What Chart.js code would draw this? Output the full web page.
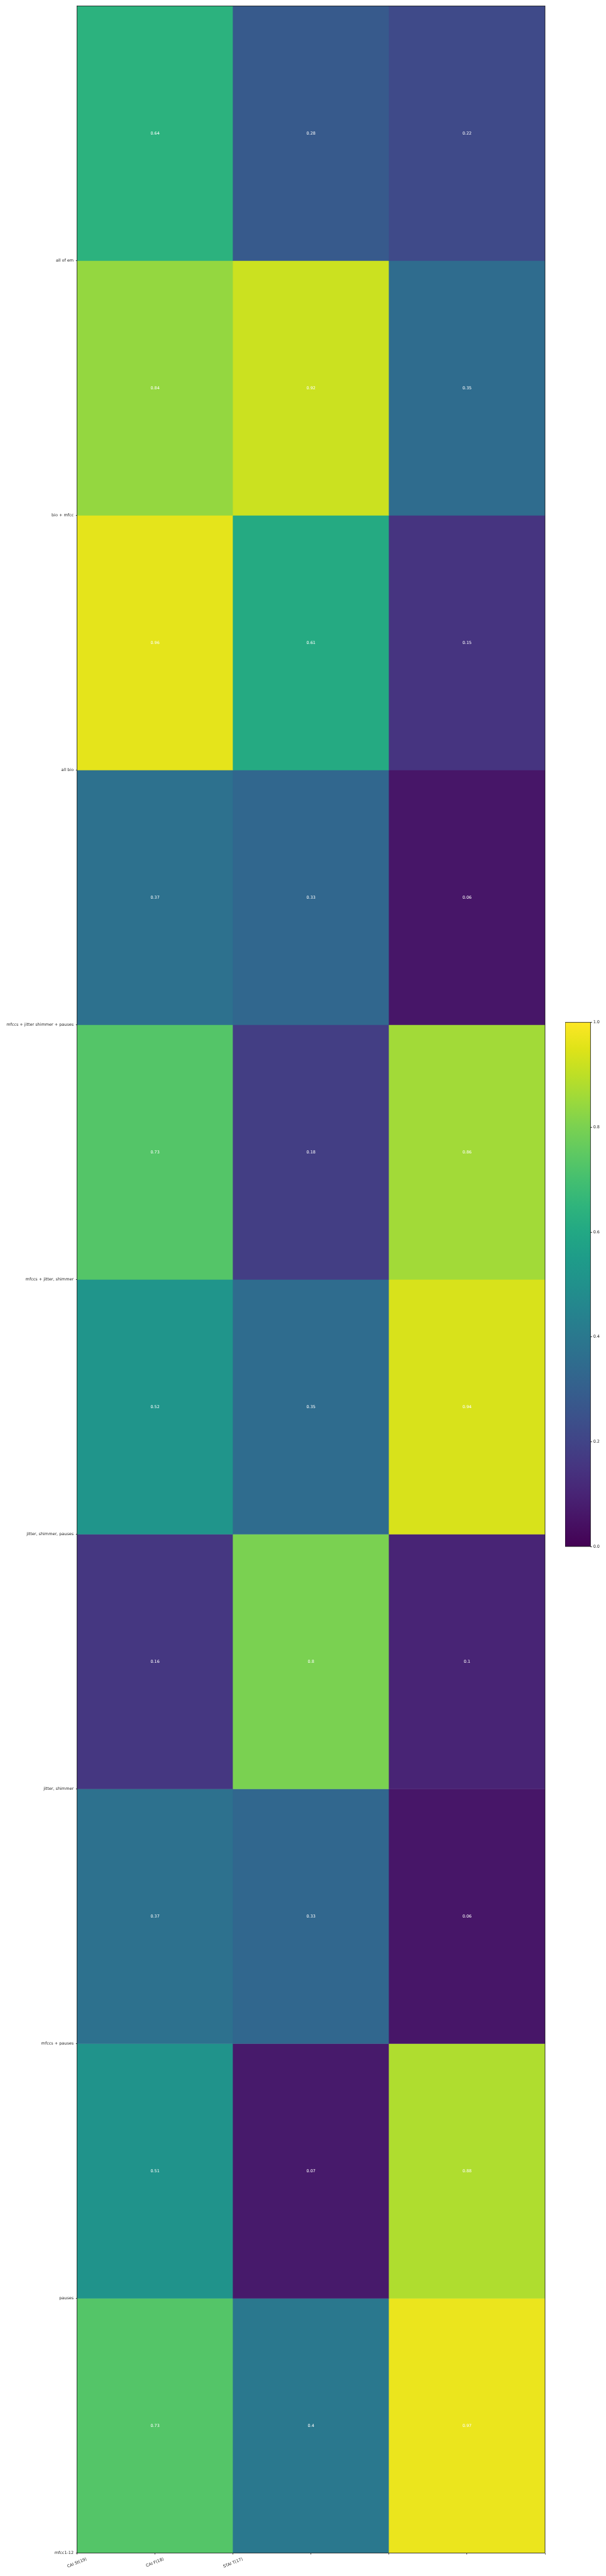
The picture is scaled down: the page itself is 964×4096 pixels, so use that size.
<!DOCTYPE html>
<html>
<head>
<meta charset="utf-8">
<script src="https://cdn.jsdelivr.net/npm/chart.js@4.4.1/dist/chart.umd.min.js"></script>
<style>
  html, body { margin: 0; padding: 0; background: #fff; }
  #main { position: absolute; left: 0; top: 0; width: 964px; height: 4096px; }
  #cbar { position: absolute; left: 899px; top: 1620px; width: 65px; height: 846px; }
</style>
</head>
<body>
<div id="main"><canvas id="heat"></canvas></div>
<div id="cbar"><canvas id="cb"></canvas></div>
<script>
'use strict';

/* ── DATA ── */
var yLabels = ['all of em', 'bio + mfcc', 'all bio', 'mfccs + jitter shimmer + pauses',
  'mfccs + jitter, shimmer', 'jitter, shimmer, pauses', 'jitter, shimmer',
  'mfccs + pauses', 'pauses', 'mfcc1-12'];
var xLabels = ['CAI St(19)', 'CAI F(18)', 'STAI T(17)'];
var colA = [0.64, 0.84, 0.96, 0.37, 0.73, 0.52, 0.16, 0.37, 0.51, 0.73];
var colB = [0.28, 0.92, 0.61, 0.33, 0.18, 0.35, 0.8, 0.33, 0.07, 0.4];
var colC = [0.22, 0.35, 0.15, 0.06, 0.86, 0.94, 0.1, 0.06, 0.88, 0.97];
var cbTicks = [0, 0.2, 0.4, 0.6, 0.8, 1.0];

/* ── VIRIDIS ── */
var VIR = ['#440154','#471365','#482475','#463480','#414487','#3b528b','#355f8d',
  '#2f6c8e','#2a788e','#25848e','#21918c','#1e9c89','#22a884','#2fb47c','#44bf70',
  '#5ec962','#7ad151','#9bd93c','#bddf26','#dfe318','#fde725'];
function hex(h){ return [parseInt(h.substr(1,2),16), parseInt(h.substr(3,2),16), parseInt(h.substr(5,2),16)]; }
function viridis(t){
  t = Math.max(0, Math.min(1, t));
  var p = t * (VIR.length - 1), i = Math.min(Math.floor(p), VIR.length - 2), f = p - i;
  var a = hex(VIR[i]), b = hex(VIR[i + 1]);
  return 'rgb(' + [0,1,2].map(function(k){ return Math.round(a[k] + (b[k] - a[k]) * f); }).join(',') + ')';
}

var S = 0.669;
var FONT = { family: 'DejaVu Sans', size: 9.7 * S };
var TXT = '#262626';
var XROT = 22 * Math.PI / 180;

/* ── PLUGINS ── */
var framePlugin = {
  id: 'frame',
  afterDraw: function(chart){
    var a = chart.chartArea, c = chart.ctx;
    c.save();
    c.strokeStyle = '#000';
    c.lineWidth = 0.75;
    c.strokeRect(a.left, a.top, a.right - a.left, a.bottom - a.top);
    c.restore();
  }
};

var cellText = {
  id: 'cellText',
  afterDatasetsDraw: function(chart){
    var c = chart.ctx;
    c.save();
    c.fillStyle = '#fff';
    c.font = FONT.size + 'px "DejaVu Sans"';
    c.textAlign = 'center';
    c.textBaseline = 'middle';
    chart.data.datasets.forEach(function(ds, di){
      chart.getDatasetMeta(di).data.forEach(function(el, j){
        var p = el.getProps(['x', 'y', 'base'], true);
        c.fillText(String(ds.values[j]), p.x, (p.y + p.base) / 2);
      });
    });
    c.restore();
  }
};

/* x labels: rotated, box centred under the tick (like ha='center') */
var xLabelPlugin = {
  id: 'xLabels',
  afterDraw: function(chart){
    var s = chart.scales.xt, c = chart.ctx, top = chart.chartArea.bottom + 6;
    c.save();
    c.fillStyle = TXT;
    c.font = FONT.size + 'px "DejaVu Sans"';
    c.textAlign = 'center';
    c.textBaseline = 'middle';
    xLabels.forEach(function(lab, i){
      var w = c.measureText(lab).width, h = FONT.size * 1.16;
      var bh = w * Math.sin(XROT) + h * Math.cos(XROT);
      c.save();
      c.translate(s.getPixelForValue(i * 0.5), top + bh / 2);
      c.rotate(-XROT);
      c.fillText(lab, 0, 0);
      c.restore();
    });
    c.restore();
  }
};

/* ── HEATMAP ── */
var rows = yLabels.map(function(_, i){
  var vals = [colA[i], colB[i], colC[i]];
  return {
    data: [[i, i + 1], [i, i + 1], [i, i + 1]],
    values: vals,
    backgroundColor: vals.map(viridis),
    borderWidth: 0,
    grouped: false,
    barPercentage: 1,
    categoryPercentage: 1
  };
});

new Chart(document.getElementById('heat'), {
  type: 'bar',
  data: { labels: ['c0', 'c1', 'c2'], datasets: rows },
  options: {
    responsive: true,
    maintainAspectRatio: false,
    animation: false,
    layout: { padding: { left: 0, right: 97, top: 9.4, bottom: 0 } },
    plugins: { legend: { display: false }, tooltip: { enabled: false } },
    scales: {
      x: { display: false },
      xt: {
        type: 'linear', position: 'bottom', min: 0, max: 3, offset: false,
        border: { display: false },
        grid: { offset: false, drawOnChartArea: false, drawTicks: true, tickLength: 2.2, color: '#000', lineWidth: 0.75 },
        ticks: { stepSize: 0.5, autoSkip: false, display: false },
        afterFit: function(s){ s.height = 36.5; }
      },
      y: {
        type: 'linear', reverse: true, min: 0, max: 10,
        border: { display: false },
        grid: { drawOnChartArea: false, drawTicks: true, tickLength: 1.8, color: '#000', lineWidth: 0.75 },
        afterBuildTicks: function(s){
          s.ticks = yLabels.map(function(_, i){ return { value: i + 1 }; });
        },
        ticks: {
          font: FONT, color: TXT, padding: 3.6,
          callback: function(v){ return yLabels[v - 1]; }
        },
        afterFit: function(s){ s.width = 122.5; }
      }
    }
  },
  plugins: [framePlugin, cellText, xLabelPlugin]
});

/* ── COLORBAR ── */
new Chart(document.getElementById('cb'), {
  type: 'bar',
  data: {
    labels: ['cb'],
    datasets: [{
      data: [[0, 1]],
      borderWidth: 0,
      barPercentage: 1,
      categoryPercentage: 1,
      backgroundColor: function(ctx){
        var a = ctx.chart.chartArea;
        if(!a) return '#21918c';
        var g = ctx.chart.ctx.createLinearGradient(0, a.bottom, 0, a.top);
        VIR.forEach(function(col, k){ g.addColorStop(k / (VIR.length - 1), col); });
        return g;
      }
    }]
  },
  options: {
    responsive: true,
    maintainAspectRatio: false,
    animation: false,
    layout: { padding: { left: 0, right: 0, top: 5.7, bottom: 7 } },
    plugins: { legend: { display: false }, tooltip: { enabled: false } },
    scales: {
      x: { display: false },
      y: {
        type: 'linear', position: 'right', min: 0, max: 1,
        border: { display: false },
        grid: { drawOnChartArea: false, drawTicks: true, tickLength: 2.6, color: '#000', lineWidth: 0.75 },
        afterBuildTicks: function(s){
          s.ticks = cbTicks.map(function(v){ return { value: v }; });
        },
        ticks: {
          font: FONT, color: TXT, padding: 1.8,
          callback: function(v){ return v.toFixed(1); }
        },
        afterFit: function(s){ s.width = 24.7; }
      }
    }
  },
  plugins: [framePlugin]
});
</script>
</body>
</html>
